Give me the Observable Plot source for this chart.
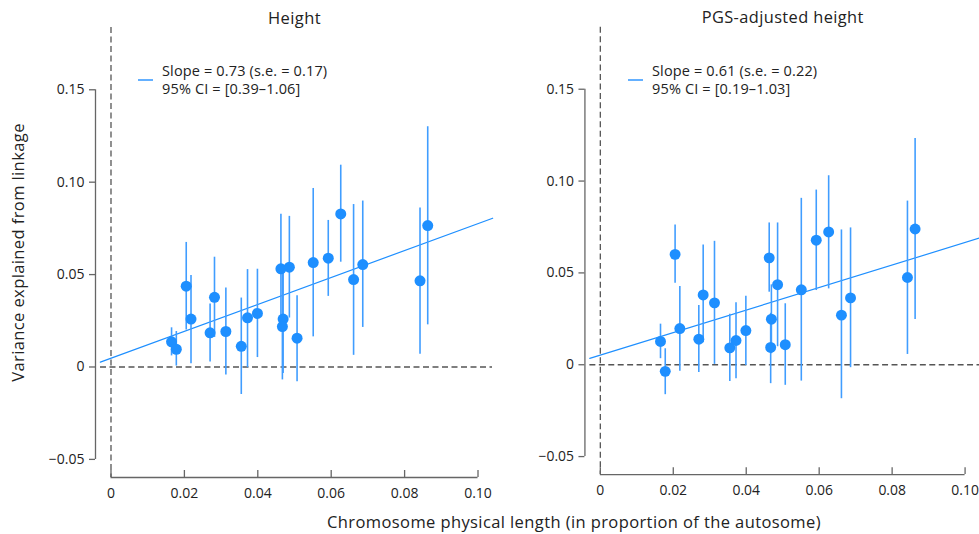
<!DOCTYPE html>
<html><head><meta charset="utf-8">
<script src="https://cdn.jsdelivr.net/npm/d3@7"></script>
<script src="https://cdn.jsdelivr.net/npm/@observablehq/plot@0.6"></script>
<style>
html,body{margin:0;padding:0;background:#fff;overflow:hidden;}
#page{position:relative;width:979px;height:534px;overflow:hidden;font-family:"Open Sans",sans-serif;color:#222;}
.panel{position:absolute;top:0;}
.legend{position:absolute;top:62px;font-size:14.5px;letter-spacing:0.15px;line-height:17.5px;white-space:nowrap;color:#222;}
.legline{position:absolute;top:79px;width:15px;height:2px;background:#64b0ff;}
#xlabel{position:absolute;top:510px;left:574px;transform:translateX(-50%);font-size:16.5px;letter-spacing:0.4px;white-space:nowrap;color:#222;}
</style></head>
<body><div id="page"></div>
<script>
// Chromosome physical length (proportion of autosome), chromosomes
const chrLength = [0.0165, 0.0178, 0.0205, 0.0218, 0.0270, 0.0282, 0.0313, 0.0355, 0.0372, 0.0399, 0.0463, 0.0486, 0.0469, 0.0467, 0.0507, 0.0551, 0.0592, 0.0626, 0.0661, 0.0686, 0.0842, 0.0863];

// Panel 1: Height
const heightY  = [0.0136, 0.0096, 0.0437, 0.0259, 0.0185, 0.0377, 0.0192, 0.0112, 0.0266, 0.0290, 0.0531, 0.0540, 0.0259, 0.0219, 0.0156, 0.0565, 0.0589, 0.0828, 0.0473, 0.0554, 0.0466, 0.0765];
const heightLo = [0.0060, 0.0005, 0.0200, 0.0018, 0.0027, 0.0160, -0.0043, -0.0149, -0.0004, 0.0051, 0.0240, 0.0265, -0.0035, -0.0070, -0.0080, 0.0163, 0.0382, 0.0567, 0.0063, 0.0214, 0.0069, 0.0228];
const heightHi = [0.0212, 0.0192, 0.0674, 0.0495, 0.0341, 0.0594, 0.0428, 0.0373, 0.0527, 0.0529, 0.0826, 0.0815, 0.0540, 0.0500, 0.0386, 0.0966, 0.0793, 0.1092, 0.0879, 0.0898, 0.0860, 0.1300];
const heightFitX = [-0.0029, 0.1040];
const heightFitY = [0.0026, 0.0805];

// Panel 2: PGS-adjusted height
const pgsY  = [0.0127, -0.0036, 0.0601, 0.0197, 0.0139, 0.0380, 0.0337, 0.0092, 0.0132, 0.0186, 0.0582, 0.0436, 0.0248, 0.0094, 0.0109, 0.0408, 0.0678, 0.0723, 0.0270, 0.0364, 0.0475, 0.0739];
const pgsLo = [0.0033, -0.0163, 0.0444, -0.0036, -0.0042, 0.0120, 0.0002, -0.0091, -0.0076, -0.0004, 0.0395, 0.0098, 0.0060, -0.0103, -0.0112, -0.0089, 0.0404, 0.0413, -0.0185, -0.0016, 0.0056, 0.0246];
const pgsHi = [0.0221, 0.0087, 0.0761, 0.0426, 0.0322, 0.0652, 0.0672, 0.0275, 0.0337, 0.0373, 0.0772, 0.0772, 0.0435, 0.0280, 0.0332, 0.0906, 0.0951, 0.1029, 0.0734, 0.0745, 0.0891, 0.1232];
const pgsFitX = [-0.0029, 0.1040];
const pgsFitY = [0.0035, 0.0690];

// Axes and text
const xTicks = [0, 0.02, 0.04, 0.06, 0.08, 0.10];
const xTickLabels = ["0", "0.02", "0.04", "0.06", "0.08", "0.10"];
const yTicks = [-0.05, 0, 0.05, 0.10, 0.15];
const yTickLabels = ["\u22120.05", "0", "0.05", "0.10", "0.15"];
const xDomain = [-0.00286, 0.10395];
const yDomain = [-0.0598, 0.1837];
const panelTitles = ["Height", "PGS-adjusted height"];
const legendTexts = [["Slope = 0.73 (s.e. = 0.17)", "95% CI = [0.39\u20131.06]"],
                     ["Slope = 0.61 (s.e. = 0.22)", "95% CI = [0.19\u20131.03]"]];
const yAxisLabel = "Variance explained from linkage";
const xAxisLabel = "Chromosome physical length (in proportion of the autosome)";

const blue = "#1e8fff";
const barBlue = "#409dff";
const axisGray = "#666";
const dashGray = "#555";

function makePanel(title, ys, los, his, fitX, fitY, withYLabel) {
  const data = chrLength.map((x, i) => ({x, y: ys[i], lo: los[i], hi: his[i]}));
  const fit = fitX.map((x, i) => ({x, y: fitY[i]}));
  const marks = [
    Plot.ruleY([0], {stroke: dashGray, strokeWidth: 1.3, strokeDasharray: "6,3.5"}),
    Plot.ruleX([0], {stroke: dashGray, strokeWidth: 1.3, strokeDasharray: "6,3.5"}),
    Plot.ruleY([yDomain[0]], {x1: xTicks[0], x2: xTicks[xTicks.length - 1], stroke: axisGray, strokeWidth: 1.3}),
    Plot.ruleX(xTicks, {insetTop: 443, stroke: axisGray, strokeWidth: 1.3}),
    Plot.ruleX([xDomain[0]], {y1: yTicks[0], y2: yTicks[yTicks.length - 1], dx: -5, stroke: axisGray, strokeWidth: 1.3}),
    Plot.axisY(yTicks, {tickSize: 6, tickPadding: 5, dx: -5, tickFormat: d => yTickLabels[yTicks.indexOf(d)], label: null, stroke: axisGray, strokeWidth: 1.3, fill: "#222", fontSize: 14}),
    Plot.axisX(xTicks, {tickSize: 0, tickPadding: 11, tickFormat: d => xTickLabels[xTicks.indexOf(d)], label: null, fill: "#222", fontSize: 14}),
    Plot.line(fit, {x: "x", y: "y", stroke: blue, strokeWidth: 1.2}),
    Plot.ruleX(data, {x: "x", y1: "lo", y2: "hi", stroke: barBlue, strokeWidth: 1.6}),
    Plot.dot(data, {x: "x", y: "y", r: 5.5, fill: blue, stroke: "none"}),
    Plot.text([title], {x: () => (xTicks[0] + xTicks[xTicks.length - 1]) / 2, frameAnchor: "top", lineAnchor: "bottom", dy: -4, fontSize: 16.5, fill: "#222"})
  ];
  if (withYLabel) {
    marks.push(Plot.text([yAxisLabel], {frameAnchor: "left", textAnchor: "middle", lineAnchor: "middle", rotate: -90, dx: -82, fontSize: 16.5, fill: "#222"}));
  }
  const svg = Plot.plot({
    width: 492, height: 534,
    marginLeft: 100, marginRight: 0, marginTop: 27, marginBottom: 57,
    x: {domain: xDomain},
    y: {domain: yDomain},
    style: {fontFamily: "'Open Sans', sans-serif", fontSize: "14px", background: "transparent", overflow: "visible"},
    marks
  });
  d3.select(svg).selectAll("g[aria-label='text'] text").style("letter-spacing", "0.4px");
  return svg;
}

const page = document.getElementById("page");
const panels = [
  makePanel(panelTitles[0], heightY, heightLo, heightHi, heightFitX, heightFitY, true),
  makePanel(panelTitles[1], pgsY, pgsLo, pgsHi, pgsFitX, pgsFitY, false)
];
const offsets = [0, 490];
panels.forEach((svg, k) => {
  const div = document.createElement("div");
  div.className = "panel";
  div.style.left = offsets[k] + "px";
  div.appendChild(svg);
  page.appendChild(div);
  const line = document.createElement("div");
  line.className = "legline";
  line.style.left = (138 + offsets[k]) + "px";
  page.appendChild(line);
  const leg = document.createElement("div");
  leg.className = "legend";
  leg.style.left = (162 + offsets[k]) + "px";
  leg.innerHTML = legendTexts[k].join("<br>");
  page.appendChild(leg);
});
const xl = document.createElement("div");
xl.id = "xlabel";
xl.textContent = xAxisLabel;
page.appendChild(xl);
</script></body></html>
